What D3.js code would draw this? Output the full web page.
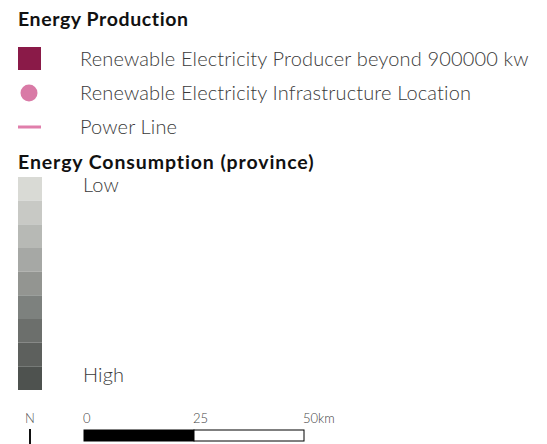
<!DOCTYPE html>
<html>
<head>
<meta charset="utf-8">
<script src="https://cdn.jsdelivr.net/npm/d3@7"></script>
<style>
  body { margin: 0; background: #fff; }
  text { font-family: "Lato", "DejaVu Sans", sans-serif; }
</style>
</head>
<body>
<div id="legend"></div>
<script>
// legend content
const productionLabels = [
  "Renewable Electricity Producer beyond 900000 kw",
  "Renewable Electricity Infrastructure Location",
  "Power Line"
];
const productionTypes = ["square", "circle", "line"];
const productionColors = ["#8a1a48", "#d97aa6", "#e07eab"];

const consumptionColors = ["#d9dad5", "#c8c9c5", "#b7b9b5", "#a6a8a5", "#939591",
                           "#7d817e", "#6c6f6c", "#5d605d", "#4e524f"];
const consumptionLabels = ["Low", "High"];

const scaleTicks = [0, 25, 50];
const scaleUnit = "km";

const W = 547, H = 444;

const svg = d3.select("#legend")
  .append("svg")
  .attr("width", W)
  .attr("height", H)

// Energy Production
svg.append("text")
  .attr("x", 18).attr("y", 26)
  .attr("font-size", 19.5).attr("font-weight", 700)
  .attr("letter-spacing", 0.6)
  .attr("fill", "#111")
  .text("Energy Production")

const rowY = d3.scalePoint().domain(d3.range(productionLabels.length)).range([59, 127])

const rows = svg.selectAll(".prod-row")
  .data(productionLabels.map((d, i) => ({label: d, type: productionTypes[i], color: productionColors[i], i})))
  .join("g")
  .classed("prod-row", true)
  .attr("transform", d => `translate(0, ${rowY(d.i)})`)

rows.filter(d => d.type === "square").append("rect")
  .attr("x", 18).attr("y", -12).attr("width", 23).attr("height", 23)
  .attr("fill", d => d.color)
rows.filter(d => d.type === "circle").append("circle")
  .attr("cx", 29).attr("cy", 0).attr("r", 8.5)
  .attr("fill", d => d.color)
rows.filter(d => d.type === "line").append("rect")
  .attr("x", 18).attr("y", -1.5).attr("width", 23).attr("height", 3)
  .attr("fill", d => d.color)

rows.append("text")
  .attr("x", 80).attr("y", 7)
  .attr("font-size", 20).attr("font-weight", 300)
  .attr("letter-spacing", 0.15)
  .attr("fill", "#3a3a3a")
  .text(d => d.label)

// Energy Consumption
svg.append("text")
  .attr("x", 18).attr("y", 169)
  .attr("font-size", 19.5).attr("font-weight", 700)
  .attr("letter-spacing", 0.9)
  .attr("fill", "#111")
  .text("Energy Consumption (province)")

const cellY = d3.scaleBand().domain(d3.range(consumptionColors.length)).range([177, 390])

svg.selectAll(".cons-cell")
  .data(consumptionColors)
  .join("rect")
  .classed("cons-cell", true)
  .attr("x", 18)
  .attr("y", (d, i) => cellY(i))
  .attr("width", 24)
  .attr("height", cellY.bandwidth())
  .attr("fill", d => d)

svg.selectAll(".cons-label")
  .data(consumptionLabels)
  .join("text")
  .classed("cons-label", true)
  .attr("x", 83)
  .attr("y", (d, i) => i === 0 ? 192 : 382)
  .attr("font-size", 20).attr("font-weight", 300)
  .attr("letter-spacing", 0.15)
  .attr("fill", "#3a3a3a")
  .text(d => d)

// north arrow + scale bar
svg.append("text")
  .attr("x", 30).attr("y", 423)
  .attr("text-anchor", "middle")
  .attr("font-size", 13).attr("font-weight", 300)
  .attr("fill", "#555")
  .text("N")
svg.append("line")
  .attr("x1", 30).attr("x2", 30).attr("y1", 429).attr("y2", 444)
  .attr("stroke", "#111").attr("stroke-width", 2)

const km = d3.scaleLinear().domain([0, 50]).range([84, 304])

svg.selectAll(".bar-seg")
  .data(d3.pairs(scaleTicks))
  .join("rect")
  .classed("bar-seg", true)
  .attr("x", d => km(d[0]))
  .attr("y", 430)
  .attr("width", d => km(d[1]) - km(d[0]))
  .attr("height", 11)
  .attr("fill", (d, i) => i === 0 ? "#000" : "#fff")
  .attr("stroke", "#000").attr("stroke-width", 1)

svg.selectAll(".bar-tick")
  .data(scaleTicks)
  .join("text")
  .classed("bar-tick", true)
  .attr("x", d => km(d) - 1)
  .attr("y", 423)
  .attr("font-size", 13).attr("font-weight", 300)
  .attr("fill", "#444")
  .text((d, i) => i === scaleTicks.length - 1 ? d + scaleUnit : d)
</script>
</body>
</html>
